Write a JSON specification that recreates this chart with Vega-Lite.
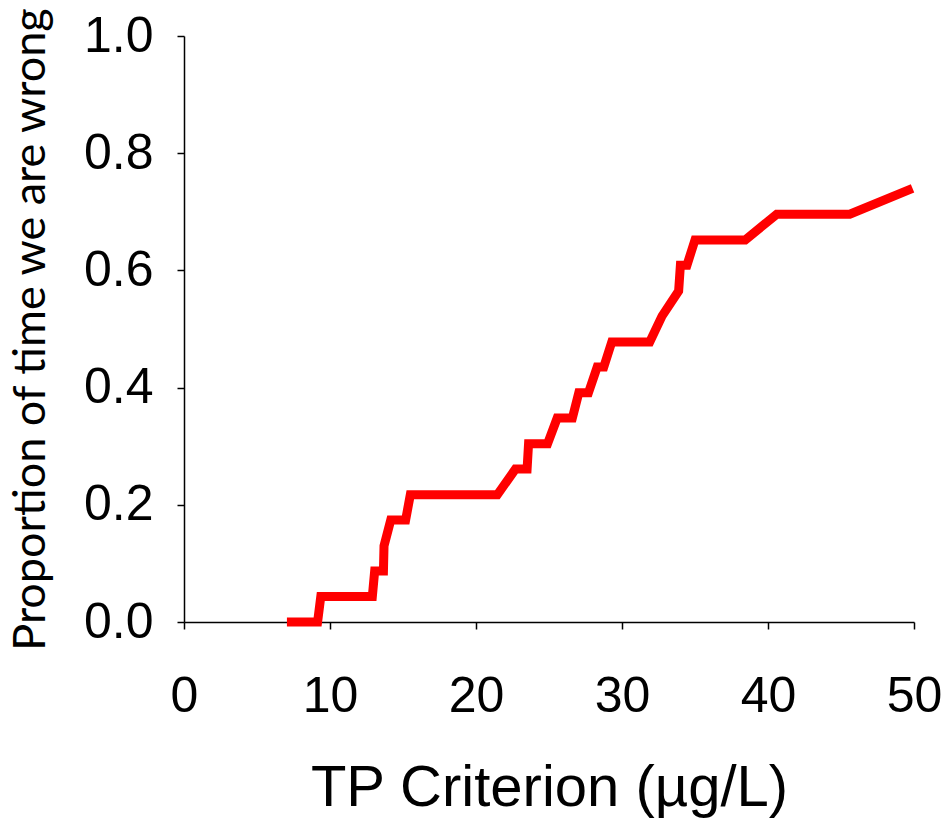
{
  "$schema": "https://vega.github.io/schema/vega-lite/v6.json",
  "width": 730,
  "height": 586,
  "autosize": {"type": "none"},
  "padding": {"left": 184, "top": 36, "right": 29, "bottom": 207},
  "background": "white",
  "config": {"view": {"stroke": null}},
  "data": {
    "values": [
      {"tp": 7.05, "p": 0},
      {"tp": 9.15, "p": 0},
      {"tp": 9.37, "p": 0.0435},
      {"tp": 12.9, "p": 0.0435},
      {"tp": 13.06, "p": 0.087},
      {"tp": 13.66, "p": 0.087},
      {"tp": 13.7, "p": 0.13},
      {"tp": 14.16, "p": 0.174},
      {"tp": 15.18, "p": 0.174},
      {"tp": 15.5, "p": 0.217},
      {"tp": 21.46, "p": 0.217},
      {"tp": 22.7, "p": 0.261},
      {"tp": 23.5, "p": 0.261},
      {"tp": 23.6, "p": 0.304},
      {"tp": 24.9, "p": 0.304},
      {"tp": 25.56, "p": 0.348},
      {"tp": 26.6, "p": 0.348},
      {"tp": 27.04, "p": 0.391},
      {"tp": 27.7, "p": 0.391},
      {"tp": 28.3, "p": 0.435},
      {"tp": 28.75, "p": 0.435},
      {"tp": 29.3, "p": 0.478},
      {"tp": 31.9, "p": 0.478},
      {"tp": 32.74, "p": 0.522},
      {"tp": 33.88, "p": 0.565},
      {"tp": 34.0, "p": 0.609},
      {"tp": 34.45, "p": 0.609},
      {"tp": 35.0, "p": 0.652},
      {"tp": 38.44, "p": 0.652},
      {"tp": 40.6, "p": 0.696},
      {"tp": 45.6, "p": 0.696},
      {"tp": 49.9, "p": 0.74}
    ]
  },
  "mark": {"type": "line", "color": "#ff0000", "strokeWidth": 9},
  "encoding": {
    "x": {
      "field": "tp",
      "type": "quantitative",
      "scale": {"domain": [0, 50], "nice": false, "zero": false},
      "axis": {
        "values": [0, 10, 20, 30, 40, 50],
        "title": "TP Criterion (µg/L)",
        "grid": false,
        "domainColor": "black",
        "domainWidth": 1.5,
        "tickColor": "black",
        "tickWidth": 1.5,
        "tickSize": 7,
        "labelFont": "Liberation Sans",
        "labelFontSize": 50,
        "labelColor": "black",
        "labelPadding": 42,
        "labelFlush": false,
        "titleFont": "Liberation Sans",
        "titleFontSize": 58,
        "titleFontWeight": "normal",
        "titleColor": "black",
        "titlePadding": 38
      }
    },
    "y": {
      "field": "p",
      "type": "quantitative",
      "scale": {"domain": [0, 1], "nice": false},
      "axis": {
        "values": [0, 0.2, 0.4, 0.6, 0.8, 1.0],
        "format": ".1f",
        "title": "Proportion of time we are wrong",
        "grid": false,
        "domainColor": "black",
        "domainWidth": 1.5,
        "tickColor": "black",
        "tickWidth": 1.5,
        "tickSize": 7,
        "labelFont": "Liberation Sans",
        "labelFontSize": 50,
        "labelColor": "black",
        "labelPadding": 24,
        "labelFlush": false,
        "titleFont": "Lato",
        "titleFontSize": 45,
        "titleFontWeight": "normal",
        "titleColor": "black",
        "titlePadding": 30
      }
    }
  }
}
